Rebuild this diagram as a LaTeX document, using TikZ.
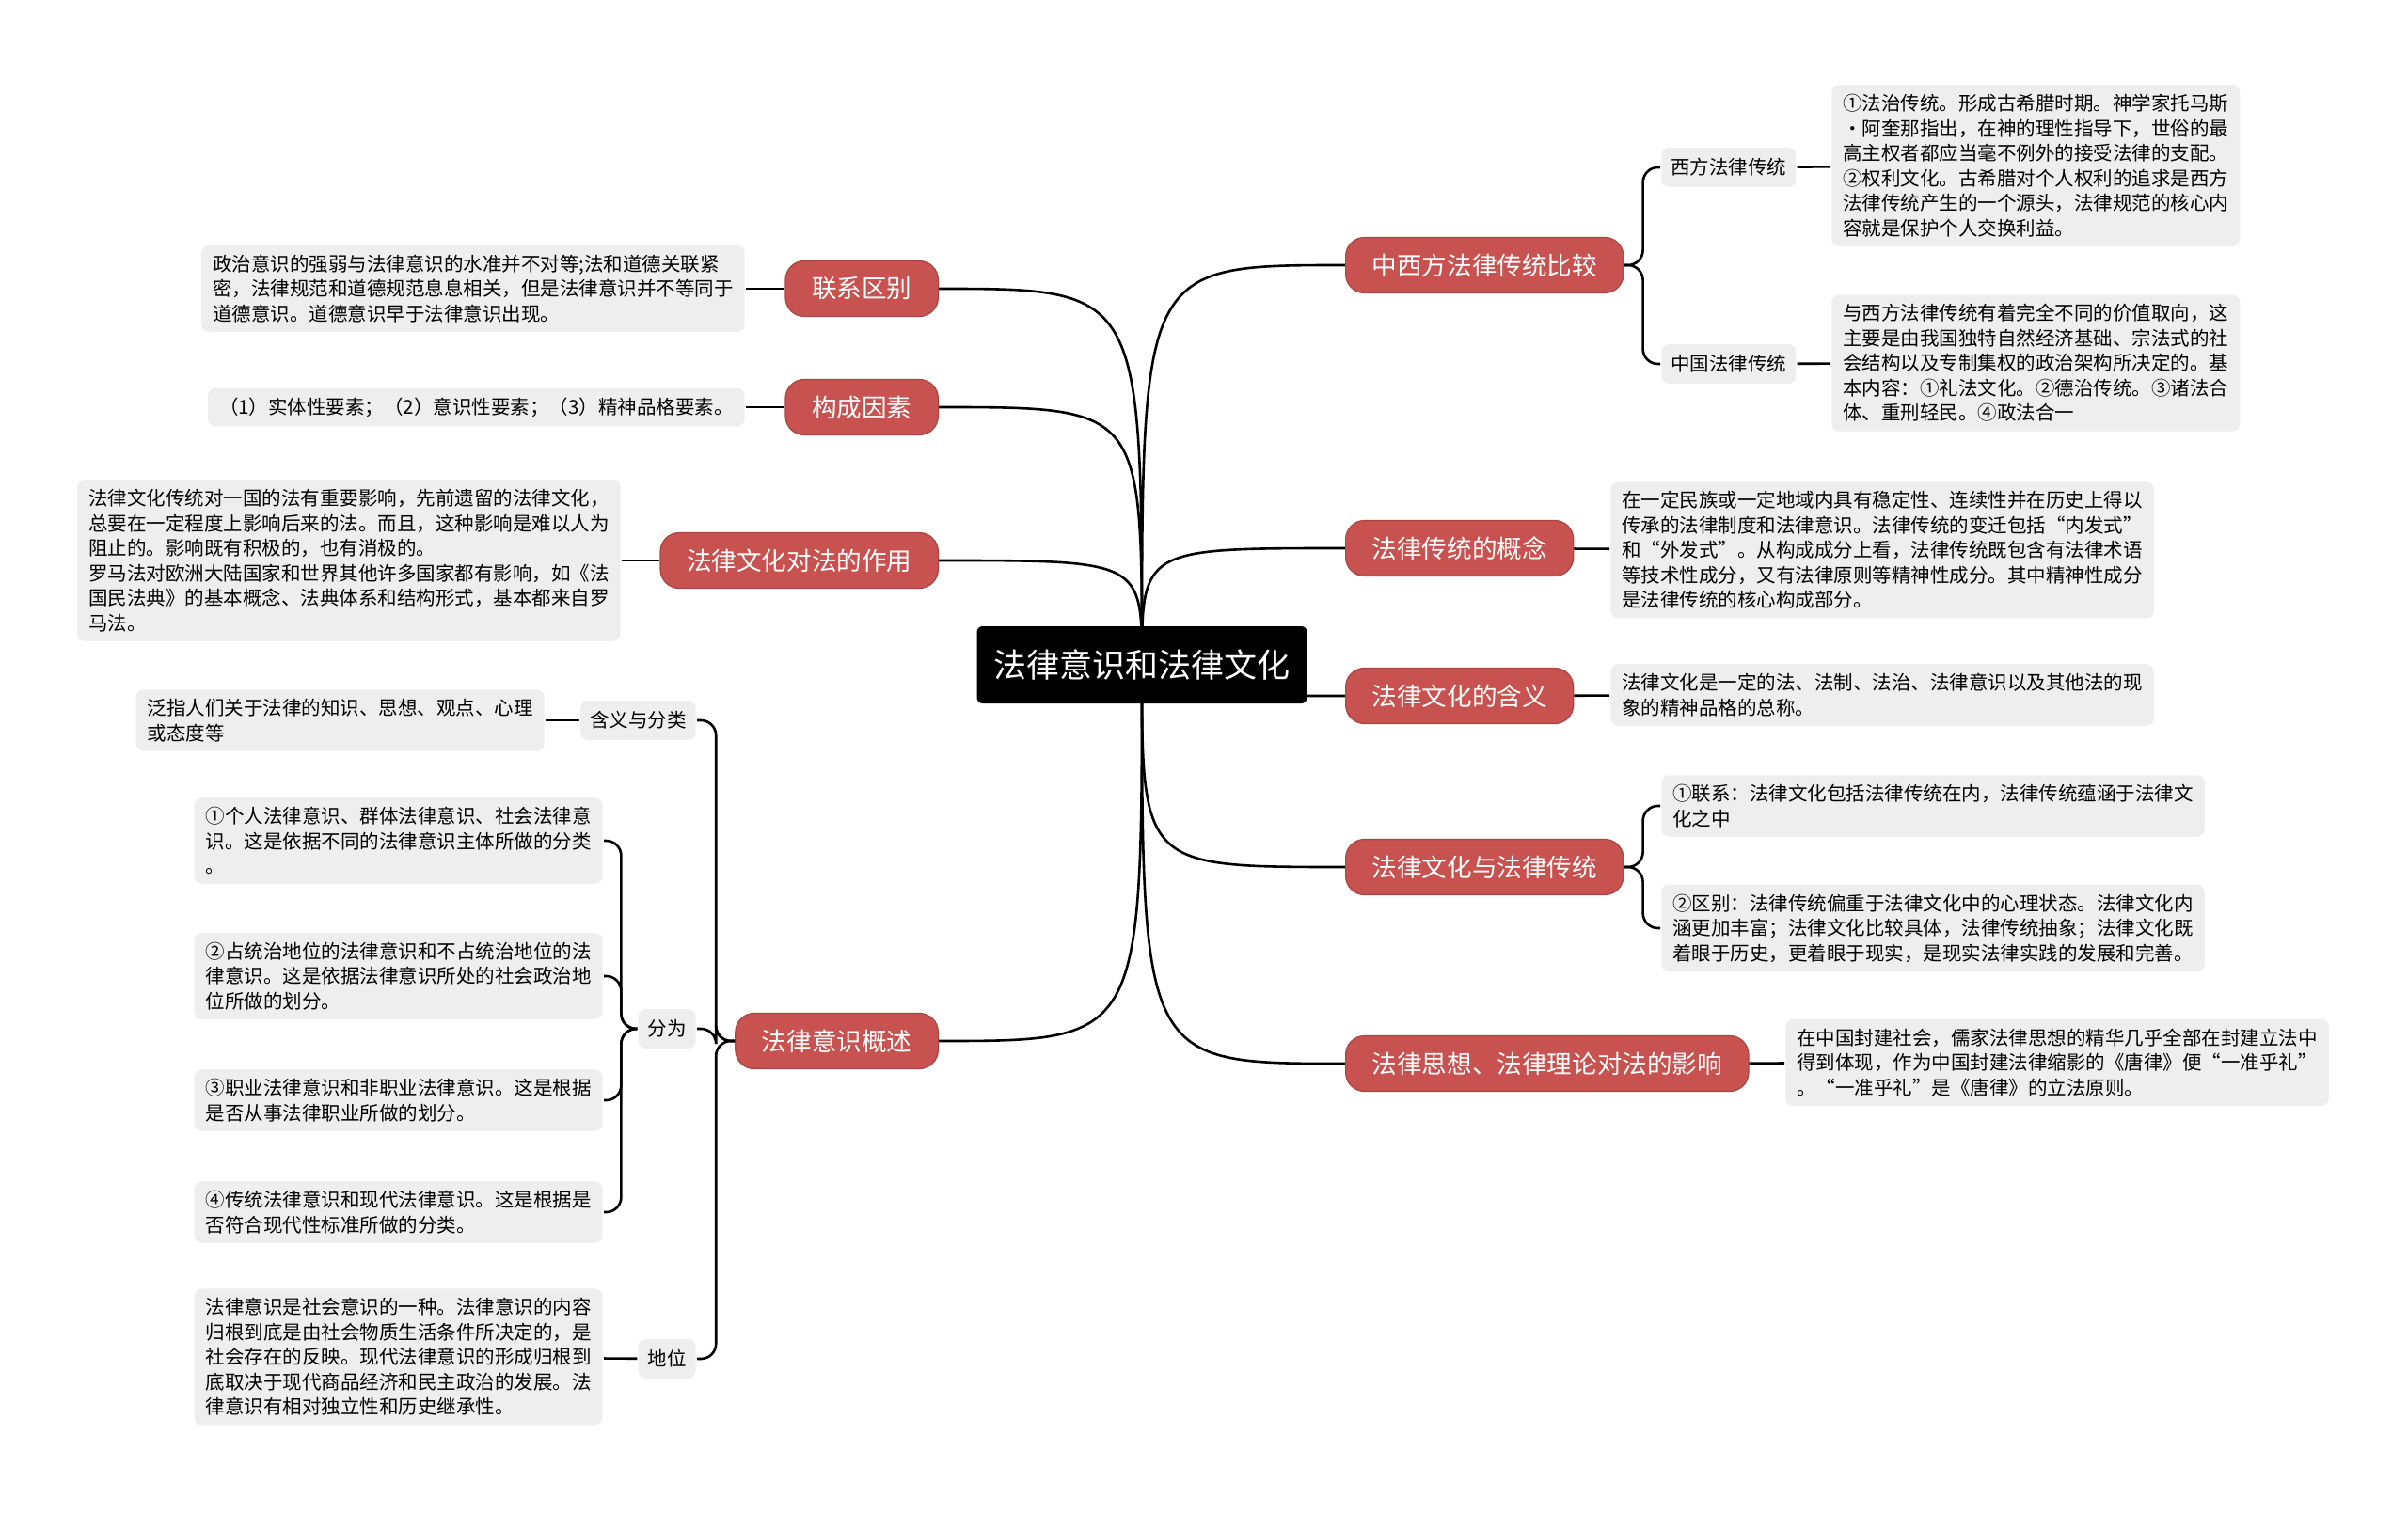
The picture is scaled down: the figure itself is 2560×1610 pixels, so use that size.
\documentclass[tikz,border=0pt]{standalone}
\usepackage{fontspec}
\setmainfont{Noto Sans CJK SC}
\usetikzlibrary{backgrounds}
\definecolor{topicred}{HTML}{C7524F}
\definecolor{leafgrey}{HTML}{EEEEEE}

\begin{document}
\begin{tikzpicture}[x=0.5pt,y=-0.5pt,line width=1.3pt,
  rootbox/.style={fill=black,text=white,rounded corners=3pt,inner xsep=9pt,minimum height=41pt,font=\fontsize{17.5pt}{21pt}\selectfont},
  topic/.style={fill=topicred,draw=topicred!85!black,line width=0.6pt,text=white,rounded corners=10pt,inner xsep=14pt,minimum height=29.5pt,font=\fontsize{13.3pt}{16pt}\selectfont},
  sub/.style={fill=leafgrey,rounded corners=4pt,inner xsep=5pt,minimum height=21pt,font=\fontsize{10.25pt}{13.25pt}\selectfont},
  leaf/.style={fill=leafgrey,rounded corners=4pt,inner xsep=6pt,inner ysep=5pt,align=left,font=\fontsize{10.25pt}{13.25pt}\selectfont},
  branch/.style={line width=1.3pt}]
\useasboundingbox (0,0) rectangle (2560,1610);

\node[rootbox] (R) at (1214,707) {法律意识和法律文化};

% right side
\node[topic,anchor=west] (R1) at (1430,282) {中西方法律传统比较};
\node[sub,anchor=west] (R1a) at (1765,178) {西方法律传统};
\node[sub,anchor=west] (R1b) at (1765,387) {中国法律传统};
\node[leaf,anchor=west] (R1aa) at (1946,176) {①法治传统。形成古希腊时期。神学家托马斯\\•阿奎那指出，在神的理性指导下，世俗的最\\高主权者都应当毫不例外的接受法律的支配。\\②权利文化。古希腊对个人权利的追求是西方\\法律传统产生的一个源头，法律规范的核心内\\容就是保护个人交换利益。};
\node[leaf,anchor=west] (R1ba) at (1946,386) {与西方法律传统有着完全不同的价值取向，这\\主要是由我国独特自然经济基础、宗法式的社\\会结构以及专制集权的政治架构所决定的。基\\本内容：①礼法文化。②德治传统。③诸法合\\体、重刑轻民。④政法合一};
\node[topic,anchor=west] (R2) at (1430,583) {法律传统的概念};
\node[leaf,anchor=west] (R2a) at (1711,585) {在一定民族或一定地域内具有稳定性、连续性并在历史上得以\\传承的法律制度和法律意识。法律传统的变迁包括“内发式”\\和“外发式”。从构成成分上看，法律传统既包含有法律术语\\等技术性成分，又有法律原则等精神性成分。其中精神性成分\\是法律传统的核心构成部分。};
\node[topic,anchor=west] (R3) at (1430,740) {法律文化的含义};
\node[leaf,anchor=west] (R3a) at (1711,739) {法律文化是一定的法、法制、法治、法律意识以及其他法的现\\象的精神品格的总称。};
\node[topic,anchor=west] (R4) at (1430,922) {法律文化与法律传统};
\node[leaf,anchor=west] (R4a) at (1765,857) {①联系：法律文化包括法律传统在内，法律传统蕴涵于法律文\\化之中};
\node[leaf,anchor=west] (R4b) at (1765,987) {②区别：法律传统偏重于法律文化中的心理状态。法律文化内\\涵更加丰富；法律文化比较具体，法律传统抽象；法律文化既\\着眼于历史，更着眼于现实，是现实法律实践的发展和完善。};
\node[topic,anchor=west] (R5) at (1430,1131) {法律思想、法律理论对法的影响};
\node[leaf,anchor=west] (R5a) at (1897,1130) {在中国封建社会，儒家法律思想的精华几乎全部在封建立法中\\得到体现，作为中国封建法律缩影的《唐律》便“一准乎礼”\\。“一准乎礼”是《唐律》的立法原则。};

% left side
\node[topic,anchor=east] (L1) at (998,307) {联系区别};
\node[leaf,anchor=east] (L1a) at (793,307) {政治意识的强弱与法律意识的水准并不对等;法和道德关联紧\\密，法律规范和道德规范息息相关，但是法律意识并不等同于\\道德意识。道德意识早于法律意识出现。};
\node[topic,anchor=east] (L2) at (998,433) {构成因素};
\node[leaf,anchor=east] (L2a) at (793,433) {（1）实体性要素；（2）意识性要素；（3）精神品格要素。};
\node[topic,anchor=east] (L3) at (998,596) {法律文化对法的作用};
\node[leaf,anchor=east] (L3a) at (661,596) {法律文化传统对一国的法有重要影响，先前遗留的法律文化，\\总要在一定程度上影响后来的法。而且，这种影响是难以人为\\阻止的。影响既有积极的，也有消极的。\\罗马法对欧洲大陆国家和世界其他许多国家都有影响，如《法\\国民法典》的基本概念、法典体系和结构形式，基本都来自罗\\马法。};
\node[topic,anchor=east] (L4) at (998,1107) {法律意识概述};
\node[sub,anchor=east] (L4a) at (741,766) {含义与分类};
\node[leaf,anchor=east] (L4aa) at (580,766) {泛指人们关于法律的知识、思想、观点、心理\\或态度等};
\node[sub,anchor=east] (L4b) at (741,1094) {分为};
\node[leaf,anchor=east] (L4b1) at (642,894) {①个人法律意识、群体法律意识、社会法律意\\识。这是依据不同的法律意识主体所做的分类\\。};
\node[leaf,anchor=east] (L4b2) at (642,1038) {②占统治地位的法律意识和不占统治地位的法\\律意识。这是依据法律意识所处的社会政治地\\位所做的划分。};
\node[leaf,anchor=east] (L4b3) at (642,1170) {③职业法律意识和非职业法律意识。这是根据\\是否从事法律职业所做的划分。};
\node[leaf,anchor=east] (L4b4) at (642,1289) {④传统法律意识和现代法律意识。这是根据是\\否符合现代性标准所做的分类。};
\node[sub,anchor=east] (L4c) at (741,1445) {地位};
\node[leaf,anchor=east] (L4ca) at (642,1443) {法律意识是社会意识的一种。法律意识的内容\\归根到底是由社会物质生活条件所决定的，是\\社会存在的反映。现代法律意识的形成归根到\\底取决于现代商品经济和民主政治的发展。法\\律意识有相对独立性和历史继承性。};

\begin{scope}[on background layer]
\foreach \t in {R1,R2,R3,R4,R5}
  \draw[branch] (R.center) .. controls (R.center |- \t.west) .. (\t.west);
\foreach \t in {L1,L2,L3,L4}
  \draw[branch] (R.center) .. controls (R.center |- \t.east) .. (\t.east);
\end{scope}
\draw[rounded corners=8pt] (R1.east) -- ++(20,0) |- (R1a.west);
\draw[rounded corners=8pt] (R1.east) -- ++(20,0) |- (R1b.west);
\draw (R1a) -- (R1aa);
\draw (R1b) -- (R1ba);
\draw (R2) -- (R2a);
\draw (R3) -- (R3a);
\draw[rounded corners=8pt] (R4.east) -- ++(20,0) |- (R4a.west);
\draw[rounded corners=8pt] (R4.east) -- ++(20,0) |- (R4b.west);
\draw (R5) -- (R5a);
\draw (L1) -- (L1a);
\draw (L2) -- (L2a);
\draw (L3) -- (L3a);
\foreach \t in {L4a,L4b,L4c}
  \draw[rounded corners=8pt] (L4.west) -- ++(-20,0) |- (\t.east);
\draw (L4a) -- (L4aa);
\foreach \t in {L4b1,L4b2,L4b3,L4b4}
  \draw[rounded corners=8pt] (L4b.west) -- ++(-17,0) |- (\t.east);
\draw (L4c) -- (L4ca);
\end{tikzpicture}
\end{document}
